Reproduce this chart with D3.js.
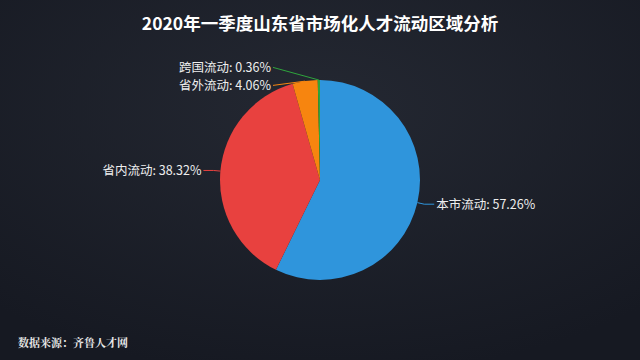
<!DOCTYPE html>
<html>
<head>
<meta charset="utf-8">
<script src="https://cdn.jsdelivr.net/npm/d3@7"></script>
<style>
  body { margin: 0; background: #1b1e27; }
  svg { display: block; }
</style>
</head>
<body>
<script>
// chart data
var categories = ["本市流动", "省内流动", "省外流动", "跨国流动"];
var shares = [57.26, 38.32, 4.06, 0.36];
var colors = ["#2f95dc", "#e8413f", "#f7850f", "#2ea43c"];
var title = "2020年一季度山东省市场化人才流动区域分析";
var source = "数据来源：齐鲁人才网";

var w = 640, h = 360;
var cx = 320, cy = 180, r = 100;

var svg = d3.select("body").append("svg").attr("width", w).attr("height", h);

// dark background, a bit lighter near the top
var defs = svg.append("defs");
var grad = defs.append("radialGradient").attr("id", "bg").attr("cx", "50%").attr("cy", "30%").attr("r", "75%");
grad.append("stop").attr("offset", "0%").attr("stop-color", "#242832");
grad.append("stop").attr("offset", "100%").attr("stop-color", "#161922");
svg.append("rect").attr("width", w).attr("height", h).attr("fill", "url(#bg)");

svg.append("text")
  .attr("x", w / 2).attr("y", 30)
  .attr("text-anchor", "middle")
  .attr("fill", "#ffffff")
  .style("font-family", "'Noto Sans CJK SC', sans-serif")
  .style("font-weight", "bold")
  .style("font-size", "17.5px")
  .text(title);

svg.append("text")
  .attr("x", 18).attr("y", 347)
  .attr("fill", "#e8e8e8")
  .style("font-family", "'Noto Serif CJK SC', 'Noto Sans CJK SC', serif")
  .style("font-weight", "bold")
  .style("font-size", "11px")
  .text(source);

var data = categories.map(function (c, i) {
  return { name: c, value: shares[i], color: colors[i] };
});

var pie = d3.pie().sort(null).value(function (d) { return d.value; });
var arcs = pie(data);
var arc = d3.arc().innerRadius(0).outerRadius(r);

var g = svg.append("g").attr("transform", "translate(" + cx + "," + cy + ")");

g.selectAll("path.slice")
  .data(arcs)
  .enter()
  .append("path")
  .attr("class", "slice")
  .attr("d", arc)
  .attr("fill", function (d) { return d.data.color; });

// label layout: edge point, elbow a bit outside, then horizontal run
var labels = arcs.map(function (d) {
  var a = (d.startAngle + d.endAngle) / 2;
  var sx = Math.sin(a), sy = -Math.cos(a);
  return {
    d: d,
    right: sx >= 0,
    p0: [sx * r, sy * r],
    p1: [sx * (r + 7), sy * (r + 7)],
    y: sy * (r + 7)
  };
});

// spread overlapping labels apart on each side (mostly downward)
var gap = 18;
[true, false].forEach(function (side) {
  var list = labels.filter(function (l) { return l.right === side; })
    .sort(function (a, b) { return a.y - b.y; });
  for (var i = 1; i < list.length; i++) {
    var over = gap - (list[i].y - list[i - 1].y);
    if (over > 0) {
      list[i - 1].y -= over / 3;
      list[i].y += over * 2 / 3;
    }
  }
});

labels.forEach(function (l) {
  var dir = l.right ? 1 : -1;
  var pts, x2;
  if (!l.right && Math.abs(l.p1[0]) < 40) {
    // slices near the top: one sloped line out to the label
    x2 = -47;
    pts = [l.p0, [x2, l.y]];
  } else {
    x2 = l.p1[0] + dir * 10;
    pts = [l.p0, [l.p1[0], l.y], [x2, l.y]];
  }
  g.append("path")
    .attr("d", d3.line()(pts))
    .attr("fill", "none")
    .attr("stroke", l.d.data.color)
    .attr("stroke-width", 1);
  g.append("text")
    .attr("x", x2 + dir * 2)
    .attr("y", l.y)
    .attr("dy", "0.35em")
    .attr("text-anchor", l.right ? "start" : "end")
    .attr("fill", "#eeeeee")
    .style("font-family", "'Noto Sans CJK SC', sans-serif")
    .style("font-size", "12.5px")
    .text(l.d.data.name + ": " + l.d.data.value.toFixed(2) + "%");
});
</script>
</body>
</html>
